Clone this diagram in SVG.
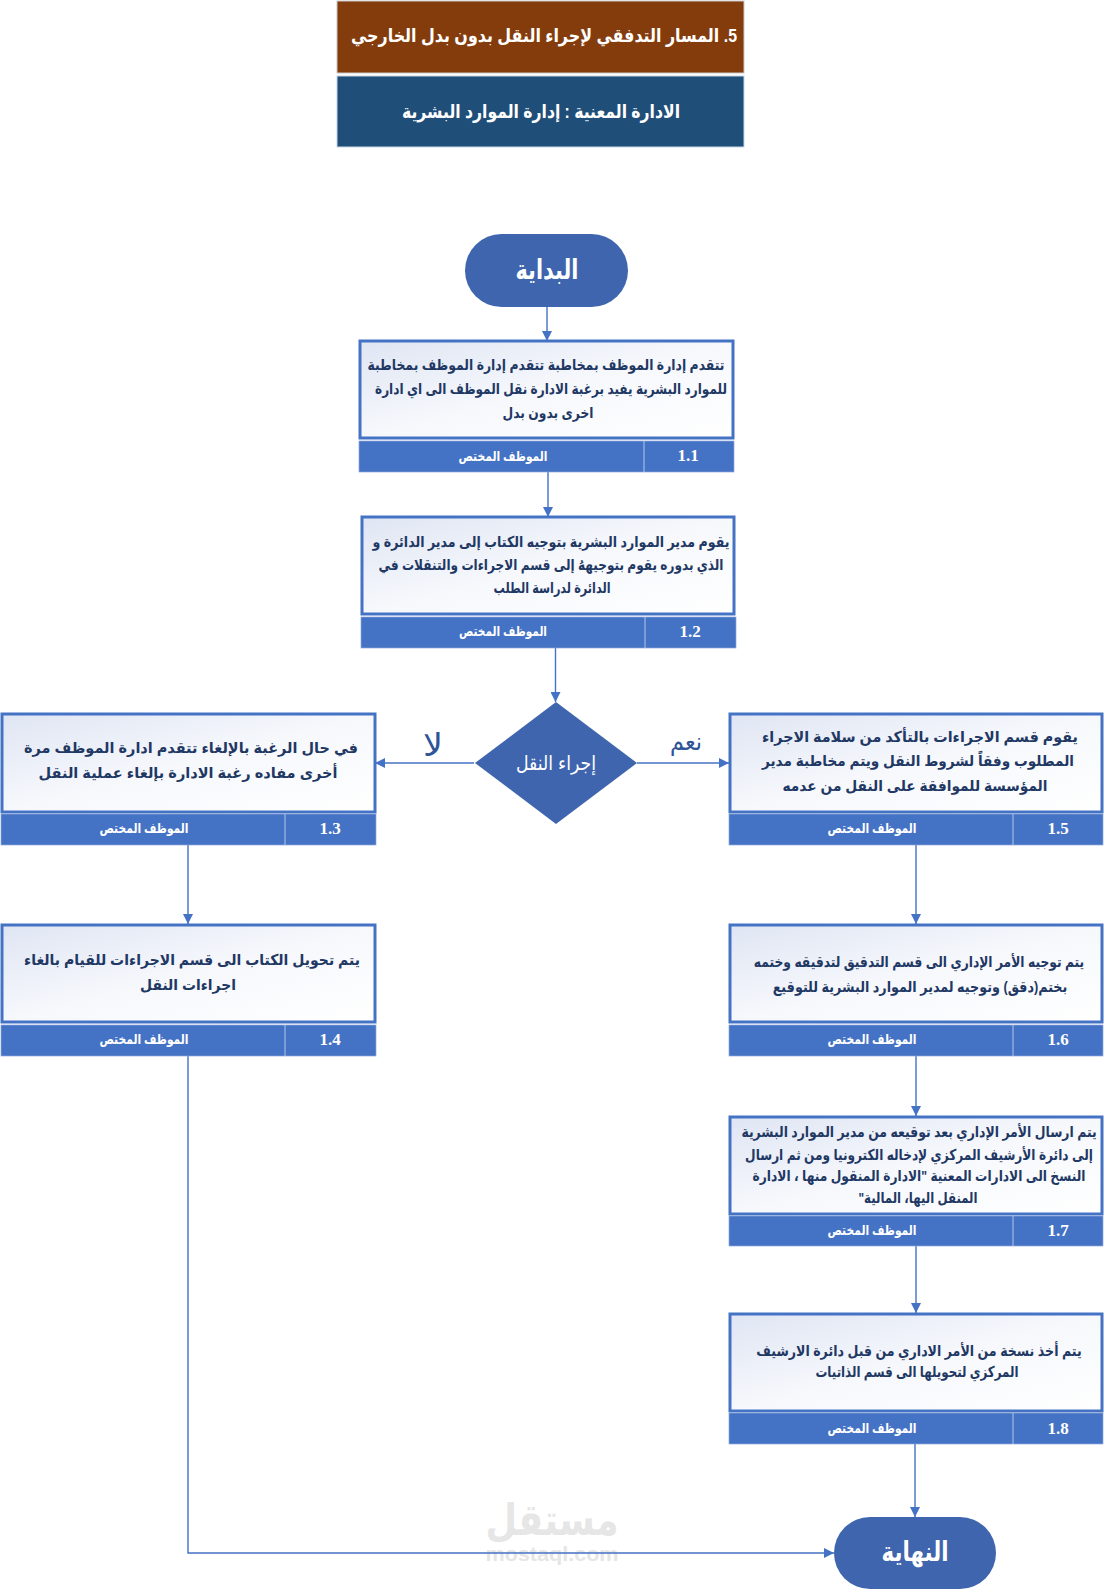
<svg xmlns="http://www.w3.org/2000/svg" width="1106" height="1595" viewBox="0 0 1106 1595">
<defs>
<linearGradient id="g" x1="0" y1="0" x2="1" y2="1"><stop offset="0" stop-color="#dfe5f3"/><stop offset="0.5" stop-color="#f6f8fc"/><stop offset="1" stop-color="#ffffff"/></linearGradient>
<marker id="a" markerWidth="11" markerHeight="10" refX="10" refY="5" orient="auto" markerUnits="userSpaceOnUse"><path d="M0 0L10 5L0 10Z" fill="#4472c4"/></marker>
<style>
text{font-family:"Liberation Sans","DejaVu Sans",sans-serif;text-anchor:middle;direction:rtl}
.b{fill:url(#g);stroke:#4472c4;stroke-width:3}
.f{fill:#4472c4;stroke:#8faadc;stroke-width:.7}
.s{stroke:#b4c7e7;stroke-width:1}
.t{font-size:15px;font-weight:700;fill:#1f3864}
.o{font-size:13.5px;font-weight:700;fill:#fff}
.n{font-family:"Liberation Serif",serif;font-size:17px;font-weight:700;fill:#fff;direction:ltr}
.h{font-size:19px;font-weight:700;fill:#fff}
.e{font-size:27px;font-weight:700;fill:#fff}
.w{fill:#3e65ae}
.l{fill:none;stroke:#4472c4;stroke-width:1.4;marker-end:url(#a)}
.y{font-size:25px;fill:#2f5597}
</style>
</defs>
<rect width="1106" height="1595" fill="#fff"/>
<g id="watermark" fill="#e6e6e6"><text x="552" y="1535" font-size="44" font-weight="700" textLength="133" lengthAdjust="spacingAndGlyphs">مستقل</text><text x="552" y="1561" font-size="20" font-weight="700" textLength="133" lengthAdjust="spacingAndGlyphs" style="direction:ltr">mostaql.com</text></g>
<g id="connectors">
<path class="l" d="M547 307V341"/><path class="l" d="M548 472V517"/><path class="l" d="M555.500 648V702"/>
<path class="l" d="M474 763H375"/><path class="l" d="M637 763H729"/>
<path class="l" d="M188 845V924"/><path class="l" d="M916 845V924"/><path class="l" d="M916 1056V1116"/><path class="l" d="M916 1246V1313"/><path class="l" d="M915 1444V1517"/>
<path class="l" d="M188 1056V1553H834"/>
</g>
<g id="title"><rect x="337" y="1" width="407" height="72" fill="#843c0c" stroke="#c9c9c9"/><text class="h" x="544" y="42" textLength="386" lengthAdjust="spacingAndGlyphs">5. المسار التدفقي لإجراء النقل بدون بدل الخارجي</text></g>
<g id="subtitle"><rect x="337" y="76" width="407" height="71" fill="#1f4e79" stroke="#c9d6e6"/><text class="h" x="541" y="118" textLength="278" lengthAdjust="spacingAndGlyphs">الادارة المعنية : إدارة الموارد البشرية</text></g>
<g id="start"><rect class="w" x="465" y="234" width="163" height="73" rx="36.500"/><text class="e" x="547" y="279" textLength="63" lengthAdjust="spacingAndGlyphs">البداية</text></g>
<g id="n11"><rect class="b" x="360" y="341" width="373" height="97"/><rect class="f" x="359" y="441" width="375" height="31"/><path class="s" d="M644 441V472"/>
<text class="t" x="546" y="370" textLength="357" lengthAdjust="spacingAndGlyphs">تتقدم إدارة الموظف بمخاطبة تتقدم إدارة الموظف بمخاطبة</text>
<text class="t" x="551" y="394" textLength="352" lengthAdjust="spacingAndGlyphs">للموارد البشرية يفيد برغبة الادارة نقل الموظف الى اي ادارة</text>
<text class="t" x="548" y="418" textLength="91" lengthAdjust="spacingAndGlyphs">اخرى بدون بدل</text>
<text class="o" x="503" y="461" textLength="89" lengthAdjust="spacingAndGlyphs">الموظف المختص</text><text class="n" x="688" y="461">1.1</text></g>
<g id="n12"><rect class="b" x="362" y="517" width="372" height="97"/><rect class="f" x="361" y="617" width="375" height="31"/><path class="s" d="M645 617V648"/>
<text class="t" x="551" y="547" textLength="357" lengthAdjust="spacingAndGlyphs">يقوم مدير الموارد البشرية بتوجيه الكتاب إلى مدير الدائرة و</text>
<text class="t" x="551" y="570" textLength="345" lengthAdjust="spacingAndGlyphs">الذي بدوره يقوم بتوجيههُ إلى قسم الاجراءات والتنقلات في</text>
<text class="t" x="552" y="593" textLength="117" lengthAdjust="spacingAndGlyphs">الدائرة لدراسة الطلب</text>
<text class="o" x="503" y="636" textLength="88" lengthAdjust="spacingAndGlyphs">الموظف المختص</text><text class="n" x="690" y="637">1.2</text></g>
<g id="decision"><path class="w" d="M556 702L637 763L556 824L475 763Z"/><text x="556" y="770" font-size="20" fill="#fff" textLength="80" lengthAdjust="spacingAndGlyphs">إجراء النقل</text></g>
<g id="label-no"><text class="y" x="433" y="756" style="font-size:32px" textLength="20" lengthAdjust="spacingAndGlyphs">لا</text></g>
<g id="label-yes"><text class="y" x="686" y="750" textLength="32" lengthAdjust="spacingAndGlyphs">نعم</text></g>
<g id="n13"><rect class="b" x="2" y="714" width="373" height="98"/><rect class="f" x="1" y="814" width="375" height="31"/><path class="s" d="M285 814V845"/>
<text class="t" x="191" y="753" textLength="334" lengthAdjust="spacingAndGlyphs">في حال الرغبة بالإلغاء تتقدم ادارة الموظف مرة</text>
<text class="t" x="188" y="778" textLength="299" lengthAdjust="spacingAndGlyphs">أخرى مفاده رغبة الادارة بإلغاء عملية النقل</text>
<text class="o" x="144" y="833" textLength="89" lengthAdjust="spacingAndGlyphs">الموظف المختص</text><text class="n" x="330" y="834">1.3</text></g>
<g id="n14"><rect class="b" x="2" y="925" width="373" height="97"/><rect class="f" x="1" y="1025" width="375" height="31"/><path class="s" d="M285 1025V1056"/>
<text class="t" x="192" y="965" textLength="336" lengthAdjust="spacingAndGlyphs">يتم تحويل الكتاب الى قسم الاجراءات للقيام بالغاء</text>
<text class="t" x="188" y="990" textLength="96" lengthAdjust="spacingAndGlyphs">اجراءات النقل</text>
<text class="o" x="144" y="1044" textLength="89" lengthAdjust="spacingAndGlyphs">الموظف المختص</text><text class="n" x="330" y="1045">1.4</text></g>
<g id="n15"><rect class="b" x="730" y="714" width="372" height="98"/><rect class="f" x="729" y="814" width="374" height="31"/><path class="s" d="M1013 814V845"/>
<text class="t" x="920" y="742" textLength="316" lengthAdjust="spacingAndGlyphs">يقوم قسم الاجراءات بالتأكد من سلامة الاجراء</text>
<text class="t" x="918" y="766" textLength="312" lengthAdjust="spacingAndGlyphs">المطلوب وفقاً لشروط النقل ويتم مخاطبة مدير</text>
<text class="t" x="915" y="791" textLength="265" lengthAdjust="spacingAndGlyphs">المؤسسة للموافقة على النقل من عدمه</text>
<text class="o" x="872" y="833" textLength="89" lengthAdjust="spacingAndGlyphs">الموظف المختص</text><text class="n" x="1058" y="834">1.5</text></g>
<g id="n16"><rect class="b" x="730" y="925" width="372" height="97"/><rect class="f" x="729" y="1025" width="374" height="31"/><path class="s" d="M1013 1025V1056"/>
<text class="t" transform="translate(919 967) scale(.83 1)" textLength="398" lengthAdjust="spacingAndGlyphs">يتم توجيه الأمر الإداري الى قسم التدقيق لتدقيقه وختمه</text>
<text class="t" transform="translate(920 992) scale(.83 1)" textLength="355" lengthAdjust="spacingAndGlyphs">بختم(دقق) وتوجيه لمدير الموارد البشرية للتوقيع</text>
<text class="o" x="872" y="1044" textLength="89" lengthAdjust="spacingAndGlyphs">الموظف المختص</text><text class="n" x="1058" y="1045">1.6</text></g>
<g id="n17"><rect class="b" x="730" y="1117" width="372" height="97"/><rect class="f" x="729" y="1216" width="374" height="30"/><path class="s" d="M1013 1216V1246"/>
<text class="t" transform="translate(919 1137) scale(.83 1)" textLength="428" lengthAdjust="spacingAndGlyphs">يتم ارسال الأمر الإداري بعد توقيعه من مدير الموارد البشرية</text>
<text class="t" transform="translate(919 1160) scale(.83 1)" textLength="419" lengthAdjust="spacingAndGlyphs">إلى دائرة الأرشيف المركزي لإدخاله الكترونيا ومن ثم ارسال</text>
<text class="t" transform="translate(919 1181) scale(.83 1)" textLength="401" lengthAdjust="spacingAndGlyphs">النسخ الى الادارات المعنية "الادارة المنقول منها ، الادارة</text>
<text class="t" x="918" y="1203" textLength="119" lengthAdjust="spacingAndGlyphs">المنقل اليها، المالية"</text>
<text class="o" x="872" y="1235" textLength="89" lengthAdjust="spacingAndGlyphs">الموظف المختص</text><text class="n" x="1058" y="1236">1.7</text></g>
<g id="n18"><rect class="b" x="730" y="1314" width="372" height="97"/><rect class="f" x="729" y="1413" width="374" height="31"/><path class="s" d="M1013 1413V1444"/>
<text class="t" transform="translate(919 1356) scale(.83 1)" textLength="392" lengthAdjust="spacingAndGlyphs">يتم أخذ نسخة من الأمر الاداري من قبل دائرة الارشيف</text>
<text class="t" x="917" y="1377" textLength="203" lengthAdjust="spacingAndGlyphs">المركزي لتحويلها الى قسم الذاتيات</text>
<text class="o" x="872" y="1433" textLength="89" lengthAdjust="spacingAndGlyphs">الموظف المختص</text><text class="n" x="1058" y="1434">1.8</text></g>
<g id="end"><rect class="w" x="834" y="1517" width="162" height="72" rx="36"/><text class="e" x="915" y="1561" textLength="67" lengthAdjust="spacingAndGlyphs">النهاية</text></g>
</svg>
